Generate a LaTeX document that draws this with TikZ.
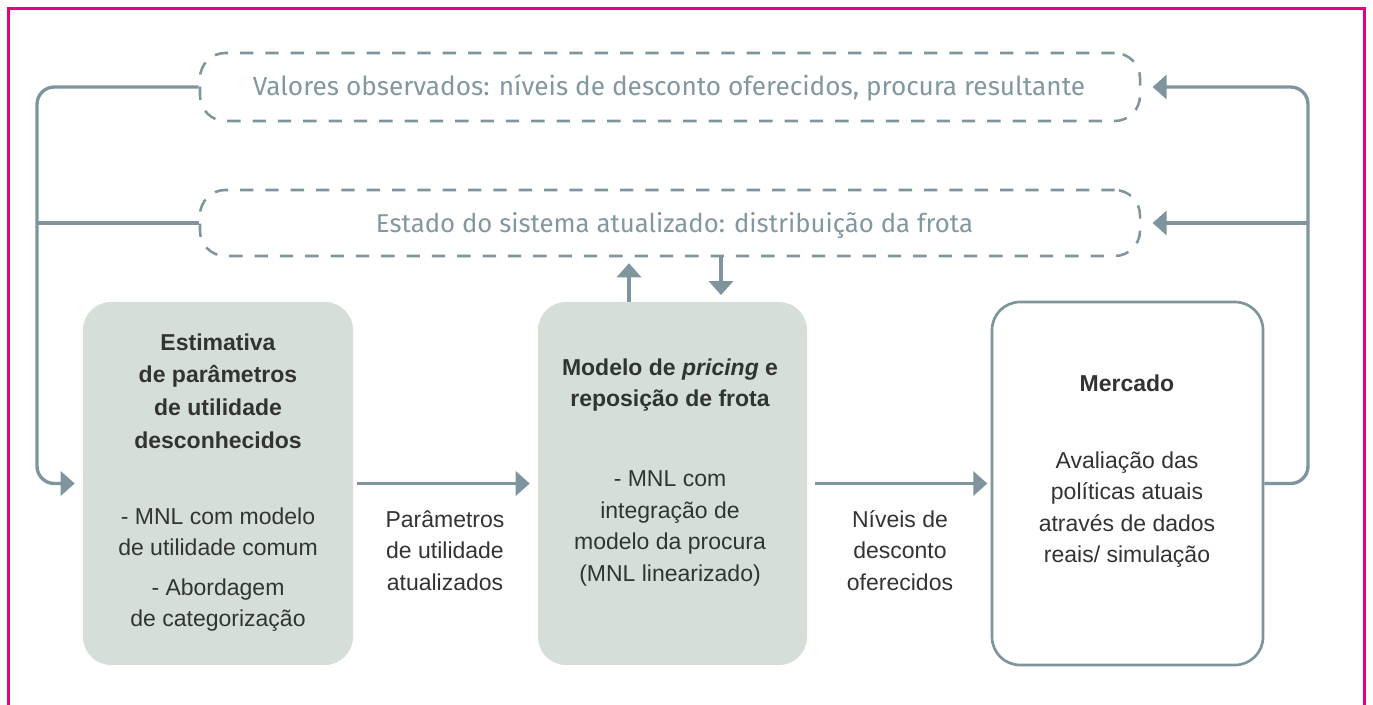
\documentclass[tikz,border=0pt]{standalone}
\usepackage{fontspec}
\setmainfont{Liberation Sans}
\newfontfamily\dfont{Fira Sans}
\usetikzlibrary{arrows.meta}
\definecolor{lineC}{HTML}{7F959E}
\definecolor{boxF}{HTML}{D5DFD8}
\definecolor{frameM}{HTML}{E6007E}
\definecolor{txtC}{HTML}{333333}
\definecolor{dtxt}{HTML}{82979F}
\newcommand{\bodyfont}{\fontsize{17.25}{23.6}\selectfont}
\tikzset{
  conn/.style={draw=lineC, line width=2.5pt},
  tip/.style={-{Triangle[length=10.5pt,width=18pt]}},
  dbox/.style={draw=lineC, line width=1.9pt, dash pattern=on 10pt off 9pt, rounded corners=19pt, minimum width=705pt},
  gbox/.style={fill=boxF, rounded corners=21pt, minimum width=202.5pt, minimum height=272.25pt},
  wbox/.style={draw=lineC, line width=2pt, fill=white, rounded corners=21pt, minimum width=203.25pt, minimum height=272.25pt},
  btxt/.style={text=txtC, align=center, font=\bodyfont, inner sep=0pt},
  dtext/.style={text=dtxt, inner sep=0pt, font=\dfont},
}
\begin{document}
\begin{tikzpicture}[x=0.75pt,y=-0.75pt]
\useasboundingbox (0,0) rectangle (1373,705);
\draw[draw=frameM, line width=2.6pt] (8.5,710) -- (8.5,8.5) -- (1364.5,8.5) -- (1364.5,710);

% dashed boxes
\node[dbox, minimum height=51pt] (obs) at (670,87) {};
\node[dtext] (obsT) at (669,88) {\resizebox{624pt}{!}{Valores observados: níveis de desconto oferecidos, procura resultante}};
\node[dbox, minimum height=49.5pt] (sys) at (670,223) {};
\node[dtext] (sysT) at (674.5,226) {\resizebox{447.75pt}{!}{Estado do sistema atualizado: distribuição da frota}};

% main boxes
\node[gbox] (A) at (218,483.5) {};
\node[gbox, minimum width=201.75pt] (B) at (672.5,483.5) {};
\node[wbox] (C) at (1127.5,483.5) {};

% texts in A
\node[btxt, font=\bodyfont\bfseries] (At) at (218,391) {Estimativa\\[1pt] de parâmetros\\[1pt] de utilidade\\[1pt] desconhecidos};
\node[btxt] (Al) at (218,569.5) {- MNL com modelo\\ de utilidade comum\\[6pt] - Abordagem\\ de categorização};
% texts in B
\node[btxt, font=\bodyfont\bfseries] (Bt) at (670,385) {Modelo de \textit{pricing} e\\ reposição de frota};
\node[btxt] (Bl) at (670,528.5) {- MNL com\\ integração de\\ modelo da procura\\ (MNL linearizado)};
% texts in C
\node[btxt, font=\bodyfont\bfseries] (Ct) at (1127,383) {Mercado};
\node[btxt] (Cl) at (1127,509.5) {Avaliação das\\ políticas atuais\\ através de dados\\ reais/ simulação};
% labels
\node[btxt] (lab1) at (445,550.5) {Parâmetros\\ de utilidade\\ atualizados};
\node[btxt] (lab2) at (900,550.5) {Níveis de\\ desconto\\ oferecidos};

% connectors
\coordinate (lt) at (37,87);
\coordinate (lb) at (37,483.5);
\coordinate (rt) at (1308,87);
\coordinate (rb) at (1308,483.5);
\coordinate (ux) at (629,0);
\coordinate (dx) at (721,0);

\draw[conn, tip, rounded corners=13pt, shorten >=6pt] (obs.west) -- (lt) -- (lb) -- (A.west);
\draw[conn] (sys.west) -- (sys.west -| lt);
\draw[conn, tip, rounded corners=13pt, shorten >=8.5pt] (C.east) -- (rb) -- (rt) -- (obs.east);
\draw[conn, tip, shorten >=8.5pt] (sys.east -| rt) -- (sys.east);

\draw[conn, tip, shorten <=3pt, shorten >=6pt] (A.east) -- (B.west);
\draw[conn, tip, shorten <=6pt, shorten >=2.5pt] (B.east) -- (C.west);

\draw[conn, tip, shorten >=4.5pt] (B.north -| ux) -- (sys.south -| ux);
\draw[conn, tip, shorten >=5pt] (sys.south -| dx) -- (B.north -| dx);
\end{tikzpicture}
\end{document}
